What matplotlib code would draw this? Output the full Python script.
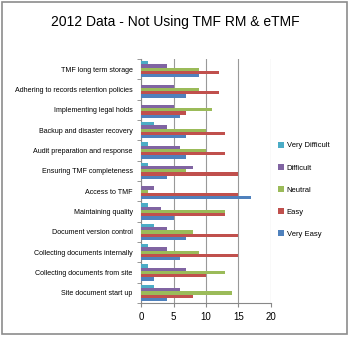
import numpy as np
import matplotlib.pyplot as plt
from matplotlib.patches import Rectangle

plt.rcParams['font.family'] = ['Liberation Sans', 'DejaVu Sans']

# categories, top to bottom as shown
categories = [
    "TMF long term storage",
    "Adhering to records retention policies",
    "Implementing legal holds",
    "Backup and disaster recovery",
    "Audit preparation and response",
    "Ensuring TMF completeness",
    "Access to TMF",
    "Maintaining quality",
    "Document version control",
    "Collecting documents internally",
    "Collecting documents from site",
    "Site document start up",
]

very_difficult = [1, 0, 0, 2, 1, 1, 0, 1, 2, 1, 1, 2]
difficult = [4, 5, 5, 4, 6, 8, 2, 3, 4, 4, 7, 6]
neutral = [9, 9, 11, 10, 10, 7, 1, 13, 8, 9, 13, 14]
easy = [12, 12, 7, 13, 13, 15, 15, 13, 15, 15, 10, 8]
very_easy = [9, 7, 6, 7, 7, 4, 17, 5, 7, 6, 2, 4]

series = [
    ("Very Difficult", very_difficult, "#4BACC6"),
    ("Difficult", difficult, "#8064A2"),
    ("Neutral", neutral, "#9BBB59"),
    ("Easy", easy, "#C0504D"),
    ("Very Easy", very_easy, "#4F81BD"),
]

fig = plt.figure(figsize=(3.5, 3.39), dpi=100)
fig.patches.append(Rectangle((0.006, 0.015), 0.985, 0.978, transform=fig.transFigure,
                             fill=False, edgecolor="#8c8c8c", linewidth=1.2))

ax = fig.add_axes([0.403, 0.106, 0.371, 0.72])

n = len(categories)
ypos = np.arange(n)[::-1]
h = 0.16
for i, (name, vals, col) in enumerate(series):
    off = (2 - i) * h
    ax.barh(ypos + off, vals, height=h, color=col, label=name,
            edgecolor="none", zorder=3)

ax.set_ylim(-0.5, n - 0.5)
ax.set_xlim(0, 20)
ax.set_xticks([0, 5, 10, 15, 20])
ax.set_yticks(ypos)
ax.set_yticklabels(categories, fontsize=5.1)
ax.set_yticks(np.arange(-0.5, n, 1), minor=True)
ax.tick_params(axis='y', which='major', length=0, pad=6)
ax.tick_params(axis='y', which='minor', length=3, color="#888888")
ax.tick_params(axis='x', length=3, color="#888888", labelsize=7)
ax.grid(axis='x', color="#999999", linewidth=0.8, zorder=0)
for s in ["top", "right"]:
    ax.spines[s].set_visible(False)
for s in ["left", "bottom"]:
    ax.spines[s].set_color("#888888")

fig.text(0.5, 0.935, "2012 Data - Not Using TMF RM & eTMF", ha="center", va="center",
         fontsize=10)

handles, labels = ax.get_legend_handles_labels()
fig.legend(handles, labels, loc="center left", bbox_to_anchor=(0.775, 0.44),
           frameon=False, fontsize=5.5, handlelength=0.8, handleheight=0.8,
           handletextpad=0.3, labelspacing=1.9)

fig.savefig("out.png", dpi=100)
